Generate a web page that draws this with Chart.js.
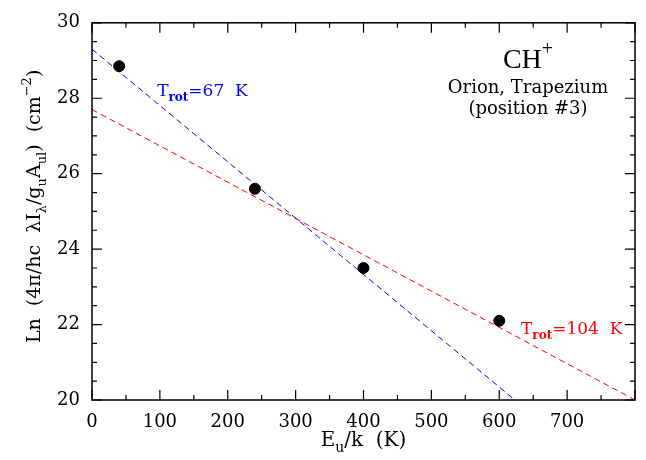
<!DOCTYPE html>
<html>
<head>
<meta charset="utf-8">
<script src="https://cdn.jsdelivr.net/npm/chart.js@4.4.1/dist/chart.umd.min.js"></script>
<style>
  html, body { margin: 0; padding: 0; background: #fff; }
  #wrap { width: 646px; height: 460px; }
</style>
</head>
<body>
<div id="wrap"><canvas id="chartContainer"></canvas></div>
<script>
// measured CH+ populations
const energies = [40, 240, 400, 600];
const lnColumn = [28.85, 25.6, 23.5, 22.1];

// rotational fits (endpoints)
const fitColdX = [0, 623];
const fitColdY = [29.3, 20.0];
const fitWarmX = [0, 800];
const fitWarmY = [27.7, 20.0];

const xTickValues = [0, 100, 200, 300, 400, 500, 600, 700];
const yTickValues = [20, 22, 24, 26, 28, 30];

const SERIF = '"DejaVu Serif", "Liberation Serif", serif';

function pts(xs, ys) { return xs.map((x, i) => ({ x: x, y: ys[i] })); }

// draw text made of pieces, some sub/superscript
function richText(ctx, parts, x, y, size, align, color) {
  ctx.save();
  ctx.fillStyle = color || '#000';
  ctx.textBaseline = 'alphabetic';
  ctx.textAlign = 'left';
  const fontFor = p => (p.bold ? 'bold ' : '') + (p.sub || p.sup ? Math.round(size * 0.7) : size) + 'px ' + (p.family || SERIF);
  let w = 0;
  parts.forEach(p => { ctx.font = fontFor(p); w += ctx.measureText(p.t).width; });
  let cx = align === 'center' ? x - w / 2 : (align === 'right' ? x - w : x);
  parts.forEach(p => {
    ctx.font = fontFor(p);
    let dy = p.sub ? size * 0.32 : (p.sup ? -size * 0.45 : 0);
    ctx.fillText(p.t, cx, y + dy);
    cx += ctx.measureText(p.t).width;
  });
  ctx.restore();
}

const framePlugin = {
  id: 'frame',
  afterDraw(chart) {
    const { ctx, chartArea: a, scales: { x, y } } = chart;
    ctx.save();
    ctx.strokeStyle = '#000';
    ctx.lineWidth = 1.5;
    ctx.strokeRect(a.left, a.top, a.right - a.left, a.bottom - a.top);
    ctx.lineWidth = 1.2;
    ctx.beginPath();
    for (let v = 0; v <= 800; v += 50) {
      const px = x.getPixelForValue(v);
      const len = v % 100 === 0 ? 10 : 5;
      ctx.moveTo(px, a.bottom); ctx.lineTo(px, a.bottom - len);
      ctx.moveTo(px, a.top); ctx.lineTo(px, a.top + len);
    }
    for (let v = 20; v <= 30.001; v += 0.5) {
      const py = y.getPixelForValue(v);
      const len = Math.abs(v % 2) < 0.01 ? 10 : 5;
      ctx.moveTo(a.left, py); ctx.lineTo(a.left + len, py);
      ctx.moveTo(a.right, py); ctx.lineTo(a.right - len, py);
    }
    ctx.stroke();
    ctx.restore();

    // axis titles
    richText(ctx, [{ t: 'E' }, { t: 'u', sub: true }, { t: '/k  (K)' }],
      (a.left + a.right) / 2, 446, 20, 'center');
    ctx.save();
    ctx.translate(40, (a.top + a.bottom) / 2 - 5);
    ctx.rotate(-Math.PI / 2);
    richText(ctx, [
      { t: 'Ln  (4π/hc  λI' }, { t: 'λ', sub: true }, { t: '/g' }, { t: 'u', sub: true },
      { t: 'A' }, { t: 'ul', sub: true }, { t: ')  (cm' }, { t: '−2', sup: true }, { t: ')' }
    ], 0, 0, 19, 'center');
    ctx.restore();

    // annotations
    richText(ctx, [{ t: 'CH', family: '"Liberation Serif", serif' }, { t: '+', sup: true, family: '"Liberation Serif", serif' }],
      528, 68, 28, 'center');
    richText(ctx, [{ t: 'Orion, Trapezium' }], 528, 93, 18, 'center');
    richText(ctx, [{ t: '(position #3)' }], 528, 114, 18, 'center');

    richText(ctx, [{ t: 'T' }, { t: 'rot', sub: true, bold: true }, { t: '=67  K' }],
      x.getPixelForValue(96), y.getPixelForValue(28.06), 17, 'left', '#0000ff');
    richText(ctx, [{ t: 'T' }, { t: 'rot', sub: true, bold: true }, { t: '=104  K' }],
      x.getPixelForValue(632), y.getPixelForValue(21.76), 17, 'left', '#ff0000');
  }
};

const ctx = document.getElementById('chartContainer').getContext('2d');
new Chart(ctx, {
  type: 'scatter',
  data: {
    datasets: [
      {
        label: 'Trot=67 K',
        data: pts(fitColdX, fitColdY),
        showLine: true,
        borderColor: '#0000ff',
        borderWidth: 1,
        borderDash: [6, 4],
        pointRadius: 0,
        order: 2
      },
      {
        label: 'Trot=104 K',
        data: pts(fitWarmX, fitWarmY),
        showLine: true,
        borderColor: '#ff0000',
        borderWidth: 1,
        borderDash: [6, 4],
        pointRadius: 0,
        order: 2
      },
      {
        label: 'CH+',
        data: pts(energies, lnColumn),
        backgroundColor: '#000',
        borderColor: '#000',
        pointRadius: 5.5,
        order: 1
      }
    ]
  },
  options: {
    responsive: true,
    maintainAspectRatio: false,
    animation: false,
    layout: { padding: { left: 0, right: 11, top: 19, bottom: 0 } },
    plugins: { legend: { display: false }, tooltip: { enabled: false } },
    scales: {
      x: {
        type: 'linear', min: 0, max: 800,
        afterBuildTicks: s => { s.ticks = xTickValues.map(v => ({ value: v })); },
        afterFit: s => { s.height = 60; },
        grid: { display: false, drawTicks: false },
        border: { display: false },
        ticks: { color: '#000', font: { family: SERIF, size: 18 }, padding: 12, maxRotation: 0 }
      },
      y: {
        type: 'linear', min: 20, max: 30,
        afterBuildTicks: s => { s.ticks = yTickValues.map(v => ({ value: v })); },
        afterFit: s => { s.width = 92; },
        grid: { display: false, drawTicks: false },
        border: { display: false },
        ticks: { color: '#000', font: { family: SERIF, size: 18 }, padding: 12 }
      }
    }
  },
  plugins: [framePlugin]
});
</script>
</body>
</html>
